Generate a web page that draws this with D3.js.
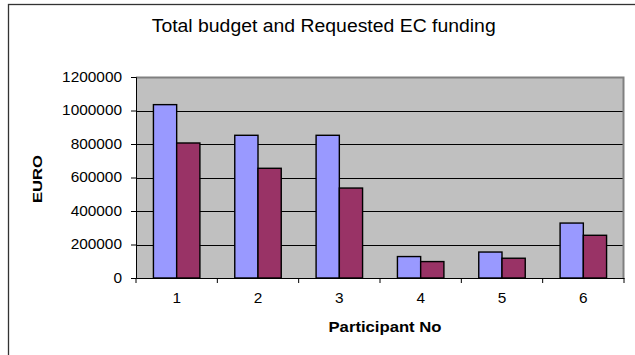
<!DOCTYPE html>
<html>
<head lang="en">
    <meta charset="UTF-8">
    <title>Total budget and Requested EC funding</title>
    <script src="https://cdnjs.cloudflare.com/ajax/libs/d3/7.8.5/d3.min.js"></script>
    <style>
        body { margin: 0; background: #fff; }
        text { font-family: Arial, "Liberation Sans", sans-serif; fill: #000; }
    </style>
</head>
<body>
<script>

    var participants = ["1", "2", "3", "4", "5", "6"];
    var totalBudget = [1035000, 852000, 852000, 128000, 155000, 328000];
    var requestedEC = [806000, 655000, 537000, 98000, 118000, 255000];
    var yTicks = [0, 200000, 400000, 600000, 800000, 1000000, 1200000];

    var series = [
        {name: "Total budget", values: totalBudget, color: "#9999ff"},
        {name: "Requested EC funding", values: requestedEC, color: "#993366"}
    ];

    var width = 635,
        height = 355;

    // plot area
    var plotL = 136, plotR = 624, plotT = 77, plotB = 278;
    var stretch = 1.1;   // text in the original is a little wider than Arial

    var svg = d3.select("body").append("svg")
        .attr("width", width)
        .attr("height", height);

    // outer chart border (right and bottom run off the picture)
    svg.append("rect")
        .attr("x", 8.5).attr("y", 4.5)
        .attr("width", 700).attr("height", 400)
        .attr("fill", "#fff")
        .attr("stroke", "#333")
        .attr("stroke-width", 1.3);

    var x = d3.scaleBand()
        .domain(participants)
        .range([plotL, plotR])
        .paddingInner(1.5 / 3.5)
        .paddingOuter(0.75 / 3.5);

    var xs = d3.scaleBand()
        .domain(series.map(function(s) { return s.name; }))
        .range([0, x.bandwidth()]);

    var y = d3.scaleLinear()
        .domain([0, 1200000])
        .range([plotB, plotT]);

    // plot background
    svg.append("rect")
        .attr("x", plotL).attr("y", plotT)
        .attr("width", plotR - plotL).attr("height", plotB - plotT)
        .attr("fill", "#c0c0c0");

    // gridlines
    svg.append("g").selectAll("line")
        .data(yTicks.slice(1, -1))
        .enter().append("line")
        .attr("x1", plotL).attr("x2", plotR)
        .attr("y1", function(d) { return Math.round(y(d)) + 0.5; })
        .attr("y2", function(d) { return Math.round(y(d)) + 0.5; })
        .attr("stroke", "#000")
        .attr("stroke-width", 1);

    // plot border top + right (grey)
    svg.append("path")
        .attr("d", "M" + plotL + "," + (plotT + 0.5) + "H" + (plotR - 0.5) + "V" + plotB)
        .attr("fill", "none")
        .attr("stroke", "#808080")
        .attr("stroke-width", 2);

    // bars
    series.forEach(function(s) {
        svg.append("g").selectAll("rect")
            .data(s.values)
            .enter().append("rect")
            .attr("x", function(d, i) { return x(participants[i]) + xs(s.name); })
            .attr("y", function(d) { return y(d); })
            .attr("width", xs.bandwidth())
            .attr("height", function(d) { return plotB - y(d); })
            .attr("fill", s.color)
            .attr("stroke", "#000")
            .attr("stroke-width", 1.4);
    });

    // y axis
    var yAxis = svg.append("g")
        .attr("transform", "translate(" + plotL + ",0)")
        .call(d3.axisLeft(y).tickValues(yTicks).tickSize(5).tickPadding(9).tickFormat(d3.format("d")));

    // x axis (ticks between categories)
    var xAxis = svg.append("g")
        .attr("transform", "translate(0," + plotB + ")")
        .call(d3.axisBottom(x).tickSize(0).tickPadding(15));

    var boundaries = d3.range(participants.length + 1).map(function(i) {
        return plotL + i * x.step();
    });
    xAxis.selectAll(".sep")
        .data(boundaries)
        .enter().append("line")
        .attr("class", "sep")
        .attr("x1", function(d) { return d; })
        .attr("x2", function(d) { return d; })
        .attr("y1", 0).attr("y2", 5)
        .attr("stroke", "#000");

    [yAxis, xAxis].forEach(function(ax) {
        ax.select(".domain").attr("stroke", "#000").attr("stroke-width", 1);
        ax.selectAll(".tick line").attr("stroke", "#000");
        ax.selectAll(".tick text")
            .attr("font-family", "Arial, 'Liberation Sans', sans-serif")
            .attr("font-size", 14)
            .attr("fill", "#000")
            .each(function() {
                var t = d3.select(this);
                var tx = +t.attr("x") || 0, ty = +t.attr("y") || 0;
                t.attr("x", 0).attr("y", 0)
                    .attr("transform", "translate(" + tx + "," + ty + ") scale(" + stretch + ",1)");
            });
    });

    // title
    svg.append("text")
        .attr("x", 323.7).attr("y", 32.3)
        .attr("text-anchor", "middle")
        .attr("font-size", 17.5)
        .attr("textLength", 344)
        .attr("lengthAdjust", "spacingAndGlyphs")
        .text("Total budget and Requested EC funding");

    // axis titles
    svg.append("text")
        .attr("x", 385).attr("y", 331.5)
        .attr("text-anchor", "middle")
        .attr("font-size", 14)
        .attr("font-weight", "bold")
        .attr("textLength", 113)
        .attr("lengthAdjust", "spacingAndGlyphs")
        .text("Participant No");

    svg.append("text")
        .attr("transform", "translate(42,179) rotate(-90)")
        .attr("text-anchor", "middle")
        .attr("font-size", 13)
        .attr("font-weight", "bold")
        .attr("textLength", 48)
        .attr("lengthAdjust", "spacingAndGlyphs")
        .text("EURO");

</script>
</body>
</html>
